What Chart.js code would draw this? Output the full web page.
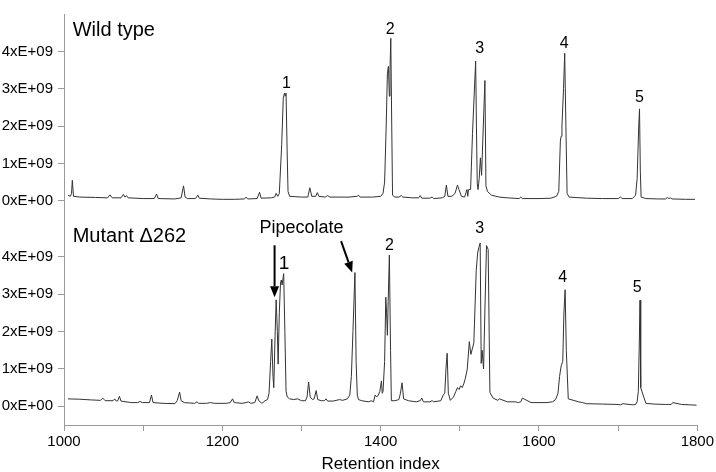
<!DOCTYPE html>
<html><head><meta charset="utf-8">
<script src="https://cdn.jsdelivr.net/npm/chart.js@4"></script>
<style>html,body{margin:0;padding:0;background:#fff}</style>
</head><body>
<canvas id="c" width="716" height="472"></canvas>
<script>
// ---- data (values in units of 1E+09) ----
const xTickValues = [1000,1100,1200,1300,1400,1500,1600,1700,1800];
const xTickLabels = ['1000','','1200','','1400','','1600','','1800'];
const yTickValues = [0,1,2,3,4];
const yTickLabels = ['0xE+00','1xE+09','2xE+09','3xE+09','4xE+09'];

const wildRI = [1005,1008,1009.5,1010.5,1012,1020,1040,1055,1058,1061,1072,1075,1077,1079,1081,1100,1114,1117,1119,1140,1148,1151,1153,1156,1166,1169,1171,1185,1200,1215,1228,1230,1232,1244,1247,1249,1262,1266,1268,1270,1272,1275,1277,1278.5,1279.5,1280.5,1282,1283,1285,1300,1308,1310.5,1313,1318,1320,1322,1330,1333,1336,1360,1370,1372,1374,1390,1400,1403,1405,1407,1408.5,1409.8,1411,1411.8,1412.8,1414,1415,1418,1423,1426,1428,1440,1448,1450,1452,1462,1465,1467,1478,1481,1483,1485,1490,1494,1497,1499,1502,1506,1509,1510,1511,1513.6,1516,1520,1521,1522,1523,1524.5,1526,1527.5,1529,1531.7,1533,1535,1540,1550,1560,1575,1577,1579,1600,1615,1622,1625,1627,1628,1629,1631,1632.5,1634,1635.5,1638,1660,1680,1700,1703,1705,1718,1722,1724,1726,1727,1728,1729,1735,1750,1760,1762,1764,1766,1768,1785,1797];
const wildVal = [0.15,0.12,0.2,0.55,0.12,0.1,0.09,0.08,0.16,0.08,0.08,0.17,0.1,0.14,0.08,0.06,0.06,0.18,0.06,0.05,0.08,0.4,0.1,0.06,0.06,0.15,0.07,0.05,0.04,0.04,0.05,0.1,0.05,0.06,0.23,0.07,0.08,0.1,0.2,0.12,0.2,1.5,2.75,2.88,2.8,2.88,1.2,0.25,0.12,0.1,0.1,0.35,0.12,0.12,0.22,0.12,0.1,0.14,0.1,0.1,0.12,0.15,0.1,0.1,0.12,0.2,0.5,2.0,3.4,3.6,2.8,3.5,4.35,2.0,0.15,0.1,0.1,0.14,0.1,0.08,0.08,0.14,0.07,0.07,0.1,0.06,0.08,0.12,0.42,0.12,0.12,0.2,0.42,0.3,0.12,0.1,0.3,0.12,0.3,0.3,1.8,3.74,2.0,0.47,0.3,0.6,1.15,0.68,1.6,3.22,0.4,0.25,0.15,0.1,0.08,0.06,0.1,0.06,0.06,0.07,0.12,0.25,1.6,1.73,2.0,3.0,3.95,2.0,0.2,0.1,0.07,0.06,0.06,0.1,0.06,0.06,0.15,0.6,2.0,2.46,0.8,0.1,0.06,0.05,0.05,0.09,0.06,0.08,0.05,0.04,0.04];

const mutRI = [1005,1020,1035,1046,1049,1052,1062,1064,1066,1068,1070,1072,1085,1093,1096,1099,1108,1110.5,1112.5,1125,1140,1143,1146,1148,1152,1165,1168,1170,1180,1185,1190,1205,1210,1213,1215,1225,1230,1233,1236,1241,1244,1246,1250,1254,1257,1259,1261,1262.5,1264,1265,1266.5,1268,1269.5,1270.5,1272,1273.5,1274.5,1275.5,1277.5,1279,1280.5,1282,1285,1290,1295,1300,1305,1307,1309,1311,1314,1316,1318.5,1320.5,1325,1329,1331,1333,1340,1348,1352,1358,1361,1363,1365,1367.5,1369,1370.5,1372,1376,1385,1388,1391,1393,1395,1397,1399,1401,1402,1403,1405,1406.5,1407.5,1408.5,1409.5,1411,1412.5,1413.5,1418,1423,1425,1427,1429,1435,1445,1450,1452,1454,1462,1465,1467,1476,1479,1481,1482.5,1484,1485.5,1488,1492,1495,1497,1499,1501,1503,1505,1507,1509.4,1512,1514,1517.7,1520.7,1522.5,1524,1525.7,1527,1528.2,1530,1531.6,1533.7,1535.8,1538,1542,1548,1550,1560,1570,1574,1577,1579,1590,1600,1610,1617,1621,1624,1626,1628,1630,1631.5,1633,1634.5,1637,1650,1655,1660,1680,1700,1703,1706,1718,1722,1724,1725.5,1726.8,1727.6,1728.5,1735,1745,1760,1764,1767,1769,1780,1790,1799];
const mutVal = [0.2,0.19,0.17,0.16,0.22,0.15,0.15,0.2,0.14,0.15,0.27,0.14,0.1,0.1,0.13,0.1,0.1,0.3,0.1,0.08,0.07,0.15,0.38,0.15,0.1,0.08,0.12,0.08,0.08,0.1,0.08,0.08,0.1,0.2,0.1,0.08,0.1,0.12,0.08,0.1,0.28,0.15,0.08,0.15,0.18,0.35,1.2,1.8,0.8,0.5,1.8,2.85,2.0,1.13,2.5,3.3,3.38,3.25,3.55,2.0,0.4,0.25,0.2,0.18,0.2,0.15,0.15,0.25,0.65,0.25,0.18,0.2,0.42,0.18,0.15,0.15,0.2,0.14,0.14,0.18,0.16,0.2,0.3,0.8,2.0,3.58,1.2,0.3,0.18,0.15,0.12,0.15,0.12,0.3,0.25,0.3,0.4,0.68,0.35,0.4,1.2,2.92,2.5,1.9,2.8,4.05,1.5,0.15,0.15,0.18,0.35,0.63,0.2,0.15,0.12,0.15,0.22,0.12,0.12,0.15,0.12,0.15,0.3,0.35,1.0,1.42,0.35,0.16,0.25,0.4,0.5,0.45,0.55,0.5,0.6,0.75,1.0,1.73,1.39,1.7,3.63,4.1,4.25,4.37,1.15,1.5,1.0,2.5,4.3,4.2,0.37,0.22,0.16,0.2,0.12,0.12,0.1,0.12,0.22,0.1,0.1,0.1,0.12,0.18,0.35,0.8,1.08,1.2,2.5,3.12,1.5,0.2,0.12,0.1,0.07,0.06,0.05,0.04,0.07,0.04,0.05,0.12,0.4,1.8,2.84,0.5,0.08,0.06,0.05,0.05,0.05,0.1,0.05,0.04,0.03,0.03];

// ---- annotations (data coordinates) ----
const panelTitles = [
  {text:'Wild type',   axis:'yTop', x:1011, y:4.55},
  {text:'Mutant \u0394262', axis:'yBot', x:1011, y:4.55}
];
const peakLabels = [
  {text:'1', axis:'yTop', x:1281, y:3.14, size:16},
  {text:'2', axis:'yTop', x:1412, y:4.58, size:16},
  {text:'3', axis:'yTop', x:1525, y:4.08, size:16},
  {text:'4', axis:'yTop', x:1632, y:4.21, size:16},
  {text:'5', axis:'yTop', x:1727, y:2.75, size:16},
  {text:'Pipecolate', axis:'yBot', x:1300, y:4.76, size:18},
  {text:'1', axis:'yBot', x:1278, y:3.81, size:19},
  {text:'2', axis:'yBot', x:1411, y:4.31, size:16},
  {text:'3', axis:'yBot', x:1525, y:4.76, size:16},
  {text:'4', axis:'yBot', x:1630, y:3.45, size:16},
  {text:'5', axis:'yBot', x:1724, y:3.18, size:16}
];
const arrows = [
  {axis:'yBot', x0:1266, y0:4.31, x1:1266, y1:2.92},
  {axis:'yBot', x0:1350, y0:4.42, x1:1364, y1:3.58}
];

const FONT = "'Liberation Sans', Arial, sans-serif";
const toPts = (xs, ys) => xs.map((x, i) => ({x: x, y: ys[i]}));

const annotate = {
  id: 'annotate',
  afterDatasetsDraw(chart) {
    const ctx = chart.ctx, xs = chart.scales.x;
    ctx.save();
    ctx.fillStyle = '#000';
    ctx.textBaseline = 'middle';
    ctx.font = '20px ' + FONT;
    ctx.textAlign = 'left';
    panelTitles.forEach(t => {
      ctx.fillText(t.text, xs.getPixelForValue(t.x), chart.scales[t.axis].getPixelForValue(t.y));
    });
    ctx.textAlign = 'center';
    peakLabels.forEach(t => {
      ctx.font = t.size + 'px ' + FONT;
      ctx.fillText(t.text, xs.getPixelForValue(t.x), chart.scales[t.axis].getPixelForValue(t.y));
    });
    ctx.strokeStyle = '#000';
    ctx.lineWidth = 2;
    arrows.forEach(a => {
      const ys = chart.scales[a.axis];
      const x0 = xs.getPixelForValue(a.x0), y0 = ys.getPixelForValue(a.y0);
      const x1 = xs.getPixelForValue(a.x1), y1 = ys.getPixelForValue(a.y1);
      const ang = Math.atan2(y1 - y0, x1 - x0);
      const hl = 11, hw = 4.5;
      const bx = x1 - hl * Math.cos(ang), by = y1 - hl * Math.sin(ang);
      ctx.beginPath(); ctx.moveTo(x0, y0); ctx.lineTo(bx, by); ctx.stroke();
      ctx.beginPath();
      ctx.moveTo(x1, y1);
      ctx.lineTo(bx + hw * Math.sin(ang), by - hw * Math.cos(ang));
      ctx.lineTo(bx - hw * Math.sin(ang), by + hw * Math.cos(ang));
      ctx.closePath(); ctx.fill();
    });
    ctx.restore();
  }
};

const axisGray = '#9a9a9a';
function yAxis() {
  return {
    type: 'linear', position: 'left', stack: 'panels', stackWeight: 1,
    min: -0.5, max: 5,
    border: {display: true, color: axisGray, width: 1},
    grid: {display: true, drawOnChartArea: false, drawTicks: true, tickLength: 6, color: axisGray},
    afterBuildTicks: s => { s.ticks = yTickValues.map(v => ({value: v})); },
    afterFit: s => { s.width = 64; },
    ticks: {
      color: '#000', padding: 5, font: {family: FONT, size: 15},
      callback: (v) => { const i = yTickValues.indexOf(v); return i >= 0 ? yTickLabels[i] : ''; }
    }
  };
}

new Chart(document.getElementById('c'), {
  type: 'line',
  data: {
    datasets: [
      {label: 'Wild type', data: toPts(wildRI, wildVal), yAxisID: 'yTop',
       borderColor: '#333', borderWidth: 1, pointRadius: 0, tension: 0, fill: false},
      {label: 'Mutant \u0394262', data: toPts(mutRI, mutVal), yAxisID: 'yBot',
       borderColor: '#333', borderWidth: 1, pointRadius: 0, tension: 0, fill: false}
    ]
  },
  options: {
    responsive: false, animation: false, devicePixelRatio: 1,
    layout: {padding: {top: 5, right: 15, left: 0, bottom: 0}},
    plugins: {legend: {display: false}, tooltip: {enabled: false}},
    scales: {
      x: {
        type: 'linear', position: 'bottom', min: 1000, max: 1800,
        border: {display: true, color: axisGray, width: 1},
        grid: {display: true, drawOnChartArea: false, drawTicks: true, tickLength: 6, color: axisGray},
        afterBuildTicks: s => { s.ticks = xTickValues.map(v => ({value: v})); },
        afterFit: s => { s.height = 47; },
        ticks: {
          color: '#000', padding: 2, maxRotation: 0, autoSkip: false, font: {family: FONT, size: 15},
          callback: (v) => { const i = xTickValues.indexOf(v); return i >= 0 ? xTickLabels[i] : ''; }
        },
        title: {display: true, text: 'Retention index', color: '#000',
                font: {family: FONT, size: 17, lineHeight: 1}, padding: {top: 0, bottom: -1}}
      },
      yBot: yAxis(),
      yTop: yAxis()
    }
  },
  plugins: [annotate]
});
</script>
</body></html>
